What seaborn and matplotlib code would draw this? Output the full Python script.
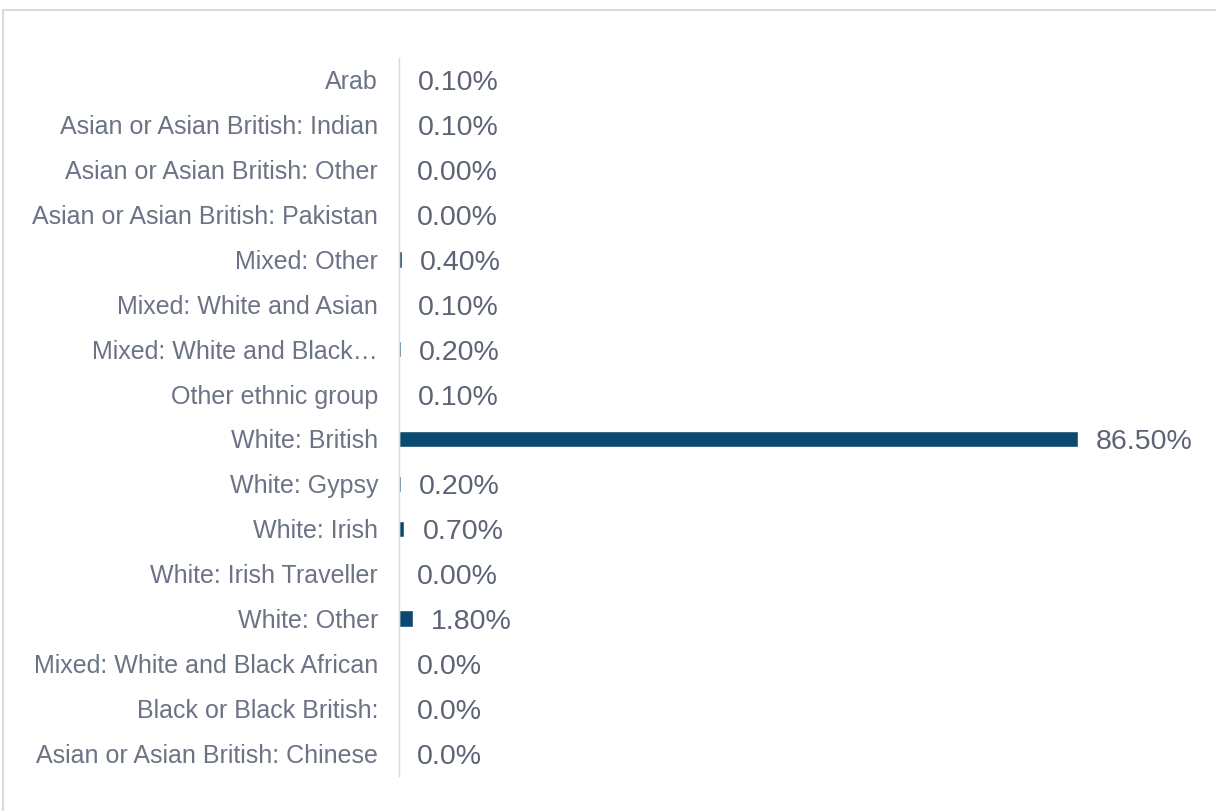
import matplotlib
matplotlib.use("Agg")
import matplotlib.pyplot as plt
from matplotlib.lines import Line2D
import seaborn as sns
import pandas as pd

# dados
categories = [
    "Arab",
    "Asian or Asian British: Indian",
    "Asian or Asian British: Other",
    "Asian or Asian British: Pakistan",
    "Mixed: Other",
    "Mixed: White and Asian",
    "Mixed: White and Black…",
    "Other ethnic group",
    "White: British",
    "White: Gypsy",
    "White: Irish",
    "White: Irish Traveller",
    "White: Other",
    "Mixed: White and Black African",
    "Black or Black British:",
    "Asian or Asian British: Chinese",
]
values = [0.1, 0.1, 0.0, 0.0, 0.4, 0.1, 0.2, 0.1, 86.5, 0.2, 0.7, 0.0, 1.8, 0.0, 0.0, 0.0]
value_labels = ["0.10%", "0.10%", "0.00%", "0.00%", "0.40%", "0.10%", "0.20%", "0.10%",
                "86.50%", "0.20%", "0.70%", "0.00%", "1.80%", "0.0%", "0.0%", "0.0%"]

df = pd.DataFrame({"category": categories, "value": values})

sns.set_style("white")
plt.rcParams["font.family"] = ["Liberation Sans", "DejaVu Sans"]

W, H = 1216, 811
fig = plt.figure(figsize=(W / 100, H / 100), dpi=100)

# eixo posicionado em pixels
left, right = 399, 1200
top, bottom = 57.5, 775.5
ax = fig.add_axes([left / W, 1 - bottom / H, (right - left) / W, (bottom - top) / H])

bar_color = "#0b4a6e"
sns.barplot(data=df, x="value", y="category", color=bar_color, orient="h",
            width=0.36, ax=ax, saturation=1)

xmax = 86.5 * (right - left) / (1078 - left)
ax.set_xlim(0, xmax)
ax.set_ylim(len(categories) - 0.5, -0.5)

for i, (v, lab) in enumerate(zip(values, value_labels)):
    ax.annotate(lab, xy=(v, i), xytext=(13, -2.5), textcoords="offset points",
                va="center", ha="left", fontsize=20.5, color="#5b6374")

ax.set_xlabel("")
ax.set_ylabel("")
ax.set_xticks([])
ax.tick_params(axis="y", length=0, pad=15, labelsize=18, labelcolor="#6b7385")
for s in ["top", "right", "bottom"]:
    ax.spines[s].set_visible(False)
ax.spines["left"].set_color("#d9d9e0")
ax.spines["left"].set_linewidth(1)

# moldura do gráfico
fig.add_artist(Line2D([3 / W, 3 / W], [0, 1 - 10 / H], color="#d9d9e0", lw=1.5))
fig.add_artist(Line2D([3 / W, 1], [1 - 10 / H, 1 - 10 / H], color="#d9d9e0", lw=1.5))

plt.savefig("out.png", dpi=100)
